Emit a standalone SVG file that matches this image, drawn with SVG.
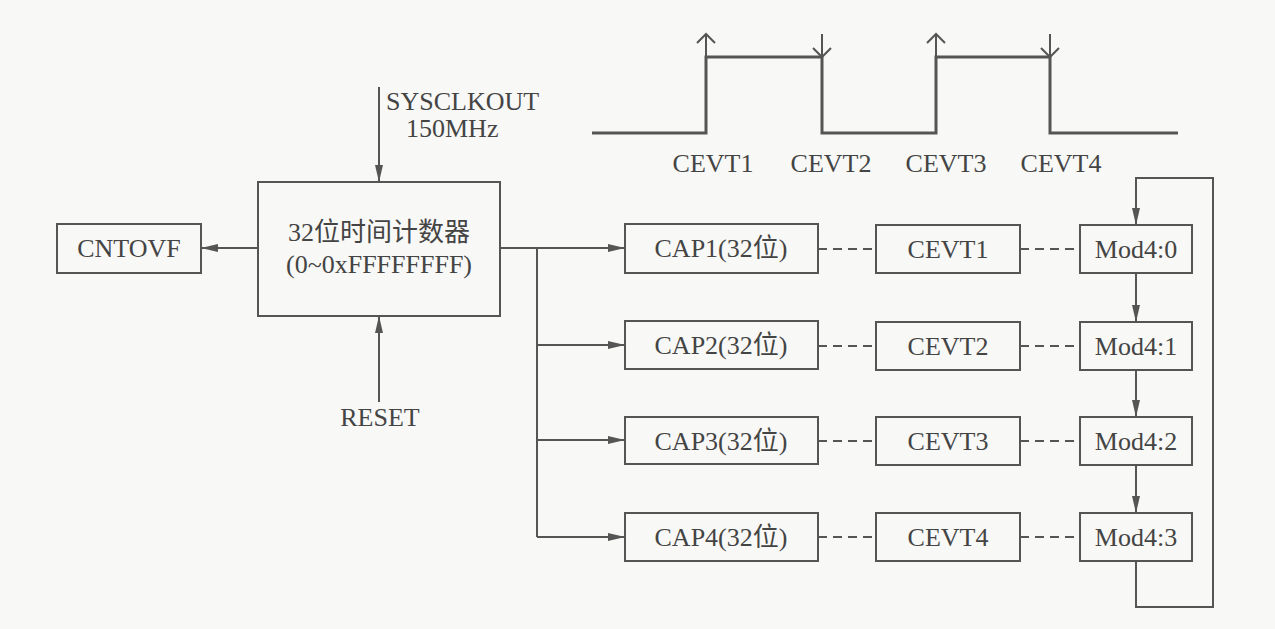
<svg xmlns="http://www.w3.org/2000/svg" width="1275" height="629" viewBox="0 0 1275 629">
<style>
.box{fill:none;stroke:#555;stroke-width:2}
.ln{fill:none;stroke:#555;stroke-width:2}
.dash{fill:none;stroke:#555;stroke-width:2;stroke-dasharray:9 6}
.wave{fill:none;stroke:#555;stroke-width:3}
.t{font-family:"Liberation Serif","Noto Sans CJK SC",serif;font-size:26px;fill:#444;text-anchor:middle}
.ts{font-family:"Liberation Serif","Noto Sans CJK SC",serif;font-size:26px;fill:#444}
.lat{font-family:"Liberation Serif",serif}
</style>
<defs>
<marker id="ah" markerWidth="18" markerHeight="10" refX="17" refY="5" orient="auto" markerUnits="userSpaceOnUse">
<path d="M0,1 L17,5 L0,9 Z" fill="#555"/>
</marker>
</defs>
<rect width="1275" height="629" fill="#f8f8f6"/>

<g id="waveform">
<polyline class="wave" points="592,133 706,133 706,57 822,57 822,133 936,133 936,57 1050,57 1050,133 1178,133"/>
<path class="ln" d="M706,57 V34 M697,43 L706,34 L715,43"/>
<path class="ln" d="M822,34 V57 M813,48 L822,57 L831,48"/>
<path class="ln" d="M936,57 V34 M927,43 L936,34 L945,43"/>
<path class="ln" d="M1050,34 V57 M1041,48 L1050,57 L1059,48"/>
<text class="t" x="713" y="172">CEVT1</text>
<text class="t" x="831" y="172">CEVT2</text>
<text class="t" x="946" y="172">CEVT3</text>
<text class="t" x="1061" y="172">CEVT4</text>
</g>

<g id="sysclk">
<text class="ts" x="386" y="110">SYSCLKOUT</text>
<text class="ts" x="406" y="137">150MHz</text>
</g>
<g id="reset"><text class="t" x="380" y="426">RESET</text></g>

<g id="counter">
<rect class="box" x="258" y="182" width="242" height="134"/>
<text class="t" x="379" y="241"><tspan class="lat">32</tspan>位时间计数器</text>
<text class="t lat" x="379" y="273">(0~0xFFFFFFFF)</text>
</g>
<g id="cntovf">
<rect class="box" x="57" y="224" width="144" height="49"/>
<text class="t" x="129" y="257">CNTOVF</text>
</g>

<g id="cap1"><rect class="box" x="625" y="224" width="193" height="49"/><text class="t" x="721" y="257"><tspan class="lat">CAP1(32</tspan>位<tspan class="lat">)</tspan></text></g>
<g id="cap2"><rect class="box" x="625" y="321" width="193" height="48"/><text class="t" x="721" y="354"><tspan class="lat">CAP2(32</tspan>位<tspan class="lat">)</tspan></text></g>
<g id="cap3"><rect class="box" x="625" y="417" width="193" height="47"/><text class="t" x="721" y="450"><tspan class="lat">CAP3(32</tspan>位<tspan class="lat">)</tspan></text></g>
<g id="cap4"><rect class="box" x="625" y="513" width="193" height="48"/><text class="t" x="721" y="546"><tspan class="lat">CAP4(32</tspan>位<tspan class="lat">)</tspan></text></g>

<g id="cevt1"><rect class="box" x="876" y="225" width="144" height="48"/><text class="t" x="948" y="258">CEVT1</text></g>
<g id="cevt2"><rect class="box" x="876" y="322" width="144" height="48"/><text class="t" x="948" y="355">CEVT2</text></g>
<g id="cevt3"><rect class="box" x="876" y="417" width="144" height="48"/><text class="t" x="948" y="450">CEVT3</text></g>
<g id="cevt4"><rect class="box" x="876" y="513" width="144" height="48"/><text class="t" x="948" y="546">CEVT4</text></g>

<g id="mod0"><rect class="box" x="1080" y="225" width="112" height="48"/><text class="t" x="1136" y="258">Mod4:0</text></g>
<g id="mod1"><rect class="box" x="1080" y="322" width="112" height="48"/><text class="t" x="1136" y="355">Mod4:1</text></g>
<g id="mod2"><rect class="box" x="1080" y="417" width="112" height="48"/><text class="t" x="1136" y="450">Mod4:2</text></g>
<g id="mod3"><rect class="box" x="1080" y="513" width="112" height="48"/><text class="t" x="1136" y="546">Mod4:3</text></g>

<g id="connectors">
<line class="ln" x1="379" y1="87" x2="379" y2="182" marker-end="url(#ah)"/>
<line class="ln" x1="379" y1="402" x2="379" y2="316" marker-end="url(#ah)"/>
<line class="ln" x1="258" y1="248" x2="201" y2="248" marker-end="url(#ah)"/>
<polyline class="ln" points="500,248 537,248 537,537"/>
<line class="ln" x1="537" y1="248" x2="625" y2="248" marker-end="url(#ah)"/>
<line class="ln" x1="537" y1="345" x2="625" y2="345" marker-end="url(#ah)"/>
<line class="ln" x1="537" y1="440" x2="625" y2="440" marker-end="url(#ah)"/>
<line class="ln" x1="537" y1="537" x2="625" y2="537" marker-end="url(#ah)"/>
<line class="dash" x1="818" y1="249" x2="876" y2="249"/>
<line class="dash" x1="818" y1="346" x2="876" y2="346"/>
<line class="dash" x1="818" y1="441" x2="876" y2="441"/>
<line class="dash" x1="818" y1="537" x2="876" y2="537"/>
<line class="dash" x1="1020" y1="249" x2="1080" y2="249"/>
<line class="dash" x1="1020" y1="346" x2="1080" y2="346"/>
<line class="dash" x1="1020" y1="441" x2="1080" y2="441"/>
<line class="dash" x1="1020" y1="537" x2="1080" y2="537"/>
<line class="ln" x1="1136" y1="273" x2="1136" y2="322" marker-end="url(#ah)"/>
<line class="ln" x1="1136" y1="370" x2="1136" y2="417" marker-end="url(#ah)"/>
<line class="ln" x1="1136" y1="465" x2="1136" y2="513" marker-end="url(#ah)"/>
<polyline class="ln" points="1136,561 1136,607 1213,607 1213,178 1136,178 1136,225" marker-end="url(#ah)"/>
</g>
</svg>
